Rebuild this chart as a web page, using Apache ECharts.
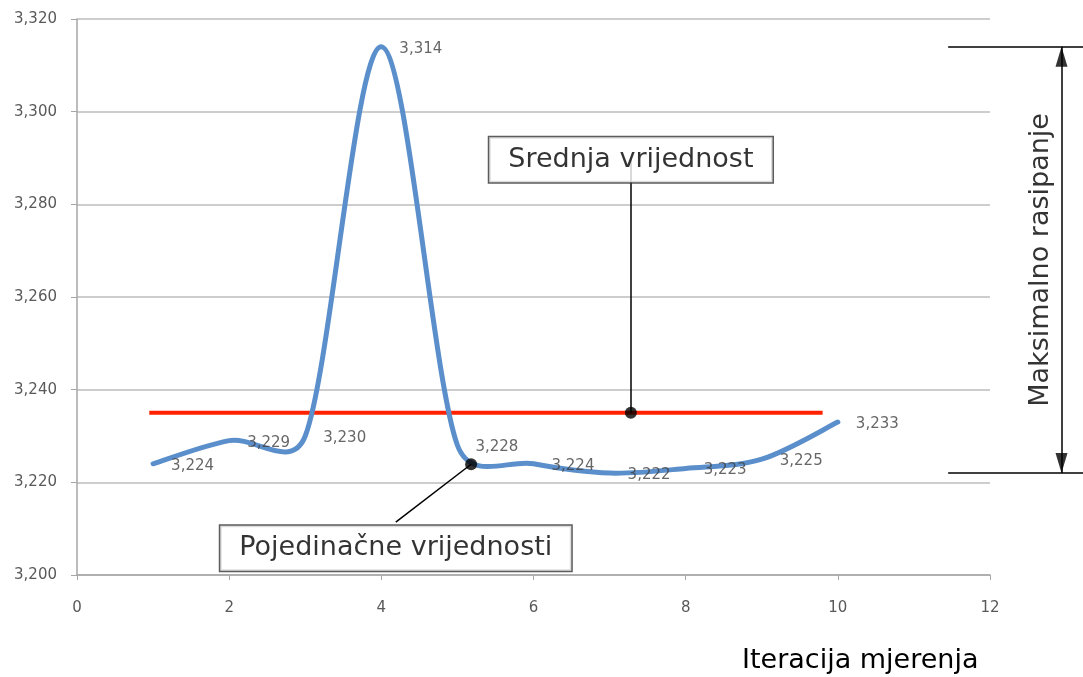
<!DOCTYPE html>
<html>
<head>
<meta charset="utf-8">
<script src="https://cdn.jsdelivr.net/npm/echarts@6/dist/echarts.min.js"></script>
<style>
  html, body { margin: 0; padding: 0; background: #ffffff; }
  #chart { width: 1083px; height: 677px; }
</style>
</head>
<body>
<div id="chart"></div>
<script>
// Measurement iterations and the measured values
const iterations = [1, 2, 3, 4, 5, 6, 7, 8, 9, 10];
const measured = [3.224, 3.229, 3.230, 3.314, 3.228, 3.224, 3.222, 3.223, 3.225, 3.233];

// Mean value line (x range it spans)
const meanValue = 3.235;
const meanSpan = [0.95, 9.8];

// Axis tick settings
const xTicks = { min: 0, max: 12, step: 2 };
const yTicks = { min: 3.2, max: 3.32, step: 0.02 };

// Annotation texts
const xTitle = 'Iteracija mjerenja';
const meanText = 'Srednja vrijednost';
const pointsText = 'Pojedinačne vrijednosti';
const spreadText = 'Maksimalno rasipanje';

const FONT = '"DejaVu Sans", "Open Sans", sans-serif';
const fmt = v => v.toFixed(3).replace('.', ',');

const maxVal = Math.max(...measured);
const minVal = Math.min(...measured);

// Anchor points of the callouts, in axis units
const meanDot = [7.28, meanValue];
const meanBox = [7.28, 3.2896];
const pointDot = [5.18, 3.2239];
const pointBoxTop = [4.19, 3.2114];
const pointBox = [4.19, 3.2058];
const bracketFrom = 11.45, bracketTo = 13.3, arrowX = 12.94, spreadTextX = 12.67;

// Cubic Bezier path through the pixel points: Catmull-Rom tangents (1/6),
// each control arm limited to half the length of its segment.
function smoothPath(pts) {
  const n = pts.length;
  const arm = (from, to, limit) => {
    let ax = (to[0] - from[0]) / 6, ay = (to[1] - from[1]) / 6;
    const len = Math.hypot(ax, ay);
    if (len > limit && len > 0) { ax *= limit / len; ay *= limit / len; }
    return [ax, ay];
  };
  let d = 'M' + pts[0][0] + ',' + pts[0][1];
  for (let i = 0; i < n - 1; i++) {
    const p0 = pts[i - 1] || pts[i];
    const p1 = pts[i];
    const p2 = pts[i + 1];
    const p3 = pts[i + 2] || pts[i + 1];
    const half = Math.hypot(p2[0] - p1[0], p2[1] - p1[1]) / 2;
    const a = arm(p0, p2, half);
    const b = arm(p1, p3, half);
    d += ' C' + (p1[0] + a[0]) + ',' + (p1[1] + a[1]) + ' ' +
         (p2[0] - b[0]) + ',' + (p2[1] - b[1]) + ' ' +
         p2[0] + ',' + p2[1];
  }
  return d;
}

const calloutLabel = (text) => ({
  show: true,
  position: 'inside',
  formatter: text,
  fontFamily: FONT,
  fontSize: 27,
  color: '#000',
  backgroundColor: '#fff',
  borderColor: '#333',
  borderWidth: 1.5,
  padding: [9, 19, 9, 19]
});

const chart = echarts.init(document.getElementById('chart'), null, { renderer: 'canvas' });

const seriesData = iterations.map((x, i) => [x, measured[i]]);

chart.setOption({
  animation: false,
  backgroundColor: '#ffffff',
  grid: { left: 77, right: 93, top: 19, bottom: 102, containLabel: false },
  xAxis: {
    type: 'value',
    min: xTicks.min, max: xTicks.max, interval: xTicks.step,
    axisLine: { show: true, lineStyle: { color: '#a6a6a6', width: 1.5 } },
    axisTick: { show: true, length: 5, lineStyle: { color: '#a6a6a6' } },
    splitLine: { show: false },
    axisLabel: { margin: 26, fontFamily: FONT, fontSize: 15, color: '#595959' }
  },
  yAxis: {
    type: 'value',
    min: yTicks.min, max: yTicks.max, interval: yTicks.step,
    axisLine: { show: true, lineStyle: { color: '#a6a6a6', width: 1.5 } },
    axisTick: { show: true, inside: false, length: 6, lineStyle: { color: '#a6a6a6' } },
    splitLine: { show: true, lineStyle: { color: '#bdbdbd', width: 1.5 } },
    axisLabel: { margin: 20, fontFamily: FONT, fontSize: 15, color: '#595959', formatter: fmt }
  },
  graphic: [{
    type: 'text',
    left: 742, top: 647,
    style: { text: xTitle, font: '27px ' + FONT, fill: '#000' }
  }],
  series: [
    {
      // mean value line
      type: 'line',
      data: meanSpan.map(x => [x, meanValue]),
      symbol: 'none',
      lineStyle: { color: '#ff2200', width: 4 },
      z: 2
    },
    {
      // individual measurements as a smoothed curve
      type: 'custom',
      data: seriesData,
      encode: { x: 0, y: 1 },
      renderItem: (params, api) => {
        if (params.dataIndex !== 0) return null;
        const pts = seriesData.map(v => api.coord(v));
        return {
          type: 'path',
          shape: { pathData: smoothPath(pts) },
          style: { fill: null, stroke: '#5b8fcb', lineWidth: 5, lineCap: 'round', lineJoin: 'round' }
        };
      },
      z: 3
    },
    {
      // value labels of the measurements
      type: 'scatter',
      data: seriesData,
      symbolSize: 0,
      label: {
        show: true,
        position: 'right',
        distance: 18,
        offset: [0, 2],
        fontFamily: FONT,
        fontSize: 15,
        color: '#404040',
        formatter: p => fmt(p.value[1])
      },
      z: 5
    },
    {
      // leader lines of the callouts
      type: 'lines',
      coordinateSystem: 'cartesian2d',
      clip: false,
      symbol: 'none',
      lineStyle: { color: '#000', width: 1.5, opacity: 1 },
      data: [
        { coords: [meanDot, meanBox] },
        { coords: [pointDot, pointBoxTop] }
      ],
      z: 4
    },
    {
      // bracket lines at the maximum and minimum value, and the arrow shaft
      type: 'lines',
      coordinateSystem: 'cartesian2d',
      clip: false,
      symbol: 'none',
      lineStyle: { color: '#000', width: 1.5, opacity: 1 },
      data: [
        { coords: [[bracketFrom, maxVal], [bracketTo, maxVal]] },
        { coords: [[bracketFrom, minVal], [bracketTo, minVal]] },
        { coords: [[arrowX, maxVal], [arrowX, minVal]] }
      ],
      z: 4
    },
    {
      // arrow heads of the spread arrow
      type: 'scatter',
      clip: false,
      symbol: 'triangle',
      symbolSize: [12, 20],
      itemStyle: { color: '#000' },
      data: [
        { value: [arrowX, maxVal], symbolOffset: [0, 10] },
        { value: [arrowX, minVal], symbolRotate: 180, symbolOffset: [0, -10] }
      ],
      z: 5
    },
    {
      // callout dots
      type: 'scatter',
      data: [meanDot, pointDot],
      symbolSize: 12,
      itemStyle: { color: '#000' },
      z: 6
    },
    {
      // callout boxes and the vertical spread label
      type: 'scatter',
      clip: false,
      symbolSize: 0,
      data: [
        { value: meanBox, label: calloutLabel(meanText) },
        { value: pointBox, label: calloutLabel(pointsText) },
        {
          value: [spreadTextX, (maxVal + minVal) / 2],
          label: {
            show: true, position: 'inside', rotate: 90,
            formatter: spreadText, fontFamily: FONT, fontSize: 27, color: '#000'
          }
        }
      ],
      z: 7
    }
  ]
});
</script>
</body>
</html>
